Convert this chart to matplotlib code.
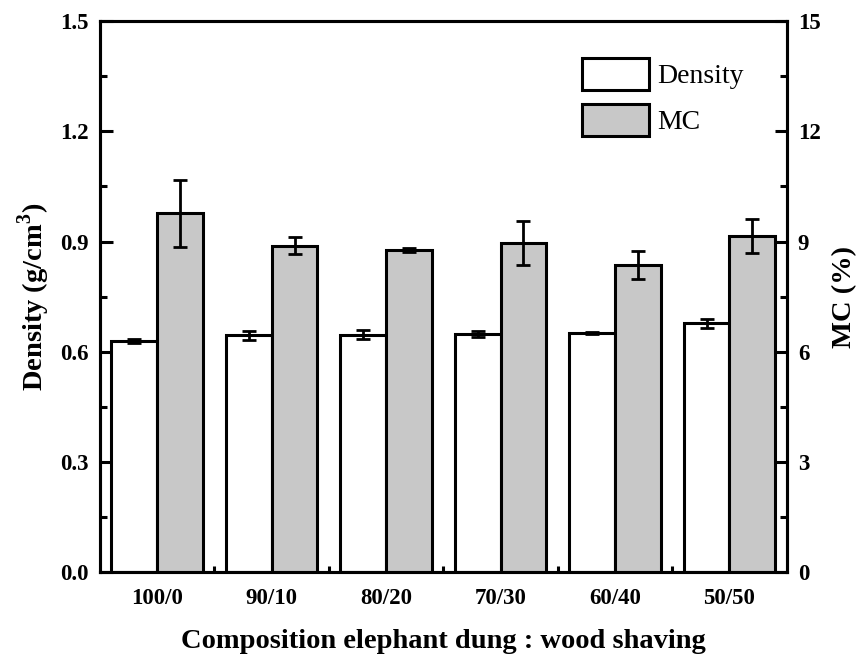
import numpy as np
import matplotlib
matplotlib.use('Agg')
import matplotlib.pyplot as plt
from matplotlib.ticker import MultipleLocator, FixedLocator

plt.rcParams['font.family'] = ['Liberation Serif', 'DejaVu Serif']
plt.rcParams['mathtext.fontset'] = 'custom'
plt.rcParams['mathtext.rm'] = 'Liberation Serif:bold'
plt.rcParams['mathtext.bf'] = 'Liberation Serif:bold'

##! Data
categories  = ['100/0', '90/10', '80/20', '70/30', '60/40', '50/50']
density     = [0.629, 0.645, 0.646, 0.649, 0.651, 0.677]
density_err = [0.005, 0.012, 0.012, 0.008, 0.004, 0.012]
mc          = [9.77, 8.88, 8.77, 8.96, 8.36, 9.15]
mc_err      = [0.91, 0.23, 0.05, 0.60, 0.37, 0.45]

x = np.arange(len(categories))
w = 0.4
lw = 2.2
tfs = 16.5

fig = plt.figure(figsize=(8.57, 6.57), dpi=100)
ax = fig.add_axes([0.1167, 0.129, 0.8013, 0.839])
ax2 = ax.twinx()

err_kw = dict(ecolor='k', elinewidth=2.0, capsize=5, capthick=2.0)
b1 = ax.bar(x - w/2, density, w, yerr=density_err, color='white',
            edgecolor='k', linewidth=lw, error_kw=err_kw, label='Density', zorder=2)
b2 = ax2.bar(x + w/2, mc, w, yerr=mc_err, color='#c8c8c8',
             edgecolor='k', linewidth=lw, error_kw=err_kw, label='MC', zorder=2)

ax.set_xlim(-0.5, 5.5)
ax.set_ylim(0, 1.5)
ax2.set_ylim(0, 15)

ax.set_xticks(x)
ax.set_xticklabels(categories, fontsize=tfs, fontweight='bold')
ax.xaxis.set_minor_locator(FixedLocator(x[:-1] + 0.5))
ax.tick_params(axis='x', which='major', length=0, pad=11)
ax.tick_params(axis='x', which='minor', direction='in', length=4, width=lw)

ax.set_yticks(np.arange(0, 1.51, 0.3))
ax.set_yticklabels(['%.1f' % v for v in np.arange(0, 1.51, 0.3)],
                   fontsize=tfs, fontweight='bold')
ax.yaxis.set_minor_locator(MultipleLocator(0.15))
ax.tick_params(axis='y', which='major', direction='in', length=9, width=lw, pad=8)
ax.tick_params(axis='y', which='minor', direction='in', length=5, width=lw)

ax2.set_yticks(np.arange(0, 15.1, 3))
ax2.set_yticklabels(['%d' % v for v in np.arange(0, 15.1, 3)],
                    fontsize=tfs, fontweight='bold')
ax2.yaxis.set_minor_locator(MultipleLocator(1.5))
ax2.tick_params(axis='y', which='major', direction='in', length=9, width=lw, pad=8)
ax2.tick_params(axis='y', which='minor', direction='in', length=5, width=lw)

for a in (ax, ax2):
    for s in a.spines.values():
        s.set_linewidth(lw)

ax.set_xlabel('Composition elephant dung : wood shaving', fontsize=20.5,
              fontweight='bold', labelpad=15)
ax.set_ylabel(r'Density (g/cm$^{\mathbf{3}}$)', fontsize=20.5, fontweight='bold', labelpad=6)
ax2.set_ylabel('MC (%)', fontsize=20.5, fontweight='bold', labelpad=8)

ax2.legend([b1, b2], ['Density', 'MC'], loc='upper left',
           bbox_to_anchor=(0.666, 0.978), frameon=False, fontsize=20,
           handlelength=2.4, handleheight=1.4, labelspacing=0.5,
           handletextpad=0.3)

fig.savefig('out.png', dpi=100)
